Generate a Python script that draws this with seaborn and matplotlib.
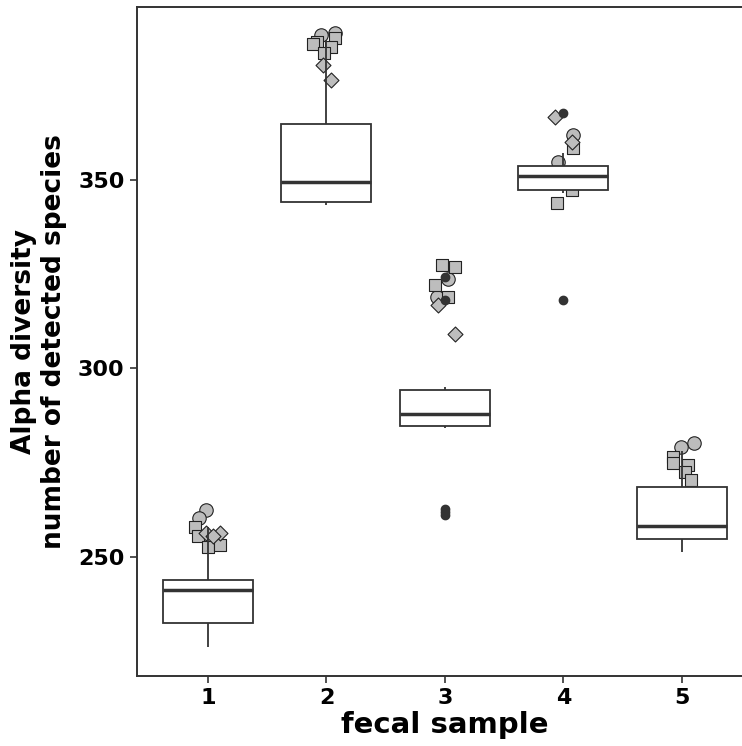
import matplotlib
matplotlib.use("Agg")
import matplotlib.pyplot as plt
import pandas as pd
import seaborn as sns

# ---- data -------------------------------------------------------------
samples = ["1", "2", "3", "4", "5"]

# richness values summarised by the boxes
box_s1 = [226.2, 229.5, 232.5, 237.0, 241.2, 242.5, 243.9, 250.0, 258.0]
box_s2 = [343.2, 343.7, 344.1, 346.5, 349.4, 356.0, 364.7, 376.0, 387.0]
box_s3 = [261.0, 261.8, 262.7, 284.2, 284.6, 285.3, 286.2, 287.0, 287.9,
          289.6, 291.2, 292.8, 294.3, 294.6, 295.0, 318.0, 324.2]
box_s4 = [318.0, 346.4, 346.8, 347.2, 348.5, 350.0, 350.9, 351.8, 352.7,
          353.6, 355.2, 357.0, 367.7]
box_s5 = [251.4, 253.0, 254.7, 256.5, 258.2, 263.0, 268.4, 273.0, 278.0]

# individual replicate measurements
pt_sample = (["1"] * 9 + ["2"] * 9 + ["3"] * 8 + ["4"] * 7 + ["5"] * 7)
pt_value = [262.5, 260.3, 258.0, 256.3, 256.3, 255.4, 252.7, 253.2, 255.4,
            388.3, 386.6, 388.8, 387.5, 385.2, 386.1, 383.5, 380.4, 376.4,
            327.3, 326.9, 323.8, 322.0, 318.9, 318.9, 316.7, 309.2,
            366.7, 361.8, 360.0, 358.3, 354.7, 347.2, 343.7,
            280.3, 279.1, 276.6, 274.9, 274.4, 272.6, 270.4]
pt_method = ["circle", "circle", "square", "diamond", "diamond", "square", "square", "square", "diamond",
             "circle", "square", "circle", "square", "square", "square", "square", "diamond", "diamond",
             "square", "square", "circle", "square", "square", "circle", "diamond", "diamond",
             "diamond", "circle", "diamond", "square", "circle", "square", "square",
             "circle", "circle", "square", "square", "square", "square", "square"]
# horizontal spread of the points around each category (category units)
pt_jitter = [-0.014, -0.079, -0.106, -0.014, 0.099, -0.085, 0.000, 0.099, 0.042,
             -0.042, -0.076, 0.076, 0.076, 0.042, -0.113, -0.020, -0.029, 0.042,
             -0.028, 0.085, 0.028, -0.085, 0.028, -0.070, -0.057, 0.085,
             -0.070, 0.085, 0.071, 0.085, -0.042, 0.071, -0.051,
             0.106, -0.006, -0.071, -0.071, 0.051, 0.028, 0.079]

# ---- tables -------------------------------------------------------------
box_df = pd.DataFrame({
    "sample": sum([[s] * len(v) for s, v in zip(samples, [box_s1, box_s2, box_s3, box_s4, box_s5])], []),
    "richness": box_s1 + box_s2 + box_s3 + box_s4 + box_s5,
})
pts = pd.DataFrame({"sample": pt_sample, "richness": pt_value,
                    "method": pt_method, "jitter": pt_jitter})
pts["xpos"] = pts["sample"].map({s: i for i, s in enumerate(samples)}) + pts["jitter"]

# ---- figure -------------------------------------------------------------
sns.set_theme(style="white")
plt.rcParams["font.family"] = ["DejaVu Sans"]
dark = "#333333"

fig = plt.figure(figsize=(7.42, 7.46), dpi=100)
ax = fig.add_axes([137 / 742, 70 / 746, 615.7 / 742, 669 / 746])

sns.boxplot(data=box_df, x="sample", y="richness", order=samples, ax=ax,
            color="white", linecolor=dark, linewidth=1.3, width=0.76,
            fliersize=6,
            flierprops=dict(marker="o", markerfacecolor=dark, markeredgecolor=dark),
            medianprops=dict(linewidth=2.5, color=dark),
            capprops=dict(visible=False))

marker_of = {"circle": "o", "square": "s", "diamond": "D"}
size_of = {"circle": 94, "square": 74, "diamond": 58}
for m in ["circle", "square", "diamond"]:
    sub = pts[pts["method"] == m]
    sns.scatterplot(data=sub, x="xpos", y="richness", ax=ax, marker=marker_of[m],
                    s=size_of[m], color="#bdbdbd", edgecolor="#222222",
                    linewidth=0.8, zorder=1, legend=False)

ax.set_xlim(-0.6, 4.6)
ax.set_ylim(218.4, 395.8)
ax.set_xticks(range(len(samples)))
ax.set_xticklabels(samples)
ax.set_yticks([250, 300, 350])

for side in ["left", "bottom", "top", "right"]:
    ax.spines[side].set_visible(True)
    ax.spines[side].set_color(dark)
    ax.spines[side].set_linewidth(1.4)

ax.tick_params(axis="both", which="major", length=5, width=1.2, color=dark,
               labelsize=16, pad=4, left=True, bottom=True, labelcolor="black")
for lab in ax.get_xticklabels() + ax.get_yticklabels():
    lab.set_fontweight("bold")

ax.set_xlabel("fecal sample", fontsize=21, fontweight="bold", labelpad=2,
              color="black")
ax.set_ylabel("Alpha diversity\nnumber of detected species", fontsize=19,
              fontweight="bold", labelpad=8, multialignment="center",
              color="black")

fig.savefig("out.png", dpi=100)
